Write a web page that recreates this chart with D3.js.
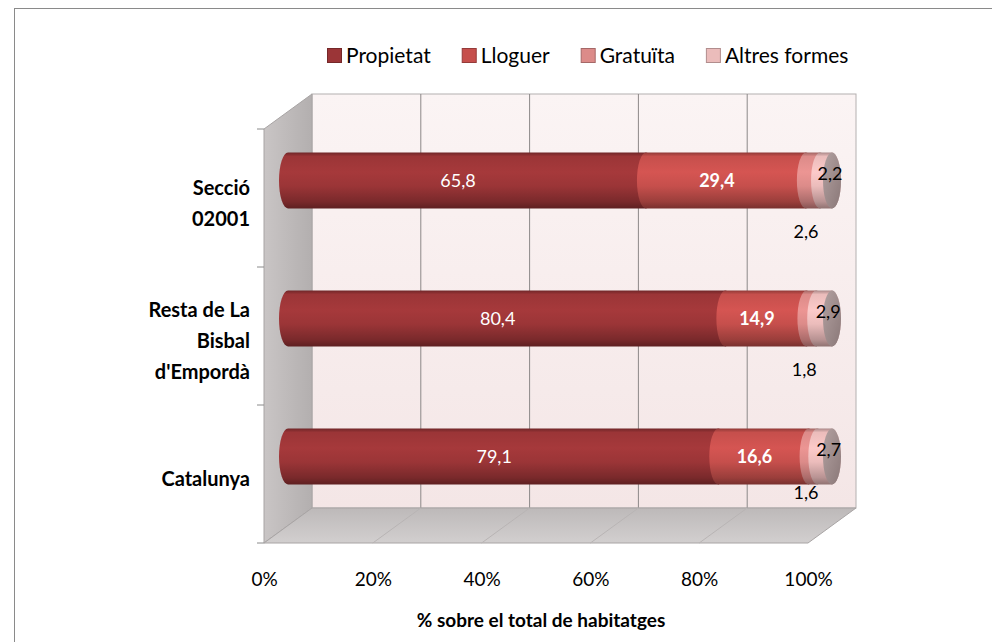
<!DOCTYPE html>
<html>
<head>
<meta charset="utf-8">
<script src="https://cdn.jsdelivr.net/npm/d3@7"></script>
<style>
  body { margin: 0; background: #fff; }
  svg { display: block; font-family: Lato, "Open Sans", sans-serif; }
</style>
</head>
<body>
<div id="chart"></div>
<script>
// Data
var categories = ["Secció 02001", "Resta de La Bisbal d'Empordà", "Catalunya"];
var categoryLines = [["Secció", "02001"], ["Resta de La", "Bisbal", "d'Empordà"], ["Catalunya"]];
var seriesNames = ["Propietat", "Lloguer", "Gratuïta", "Altres formes"];
var propietat = [65.8, 80.4, 79.1];
var lloguer = [29.4, 14.9, 16.6];
var gratuita = [2.6, 1.8, 1.6];
var altres = [2.2, 2.9, 2.7];
var tickValues = [0, 20, 40, 60, 80, 100];
var axisTitle = "% sobre el total de habitatges";

var colors = ["#9b3537", "#c64f4c", "#dc8b89", "#ebbcbb"];

// build the rows for d3.stack
var rows = categories.map(function(c, i) {
  return {cat: c, "Propietat": propietat[i], "Lloguer": lloguer[i], "Gratuïta": gratuita[i], "Altres formes": altres[i]};
});
var stacked = d3.stack().keys(seriesNames)(rows);

// Dimensions
var width = 992, height = 642;
var depthX = 48, depthY = 35;          // offset of the back wall
var plotTop = 129, plotBottom = 543;   // front edge of the plot

var svg = d3.select("#chart").append("svg")
    .attr("width", width)
    .attr("height", height);

var defs = svg.append("defs");

// outer frame (right and bottom edges fall outside the picture)
svg.append("rect")
    .attr("x", 14.5).attr("y", 8.5)
    .attr("width", 1000).attr("height", 700)
    .attr("fill", "#fff")
    .attr("stroke", "#8a8a8a");

// Scales
var x = d3.scaleLinear().domain([0, 100]).range([264, 808]);
var y = d3.scaleBand().domain(categories).range([plotTop, plotBottom]);
var xBack = function(v) { return x(v) + depthX; };
var xBar = function(v) { return x(v) + depthX / 2; };
var barCenter = function(c) { return y(c) + y.bandwidth() / 2 - depthY / 2; };
var barR = 28, capR = 9;

// gradients
var wallGrad = defs.append("linearGradient").attr("id", "wallGrad")
    .attr("x1", 0).attr("y1", 0).attr("x2", 0).attr("y2", 1);
wallGrad.append("stop").attr("offset", "0%").attr("stop-color", "#fbf4f4");
wallGrad.append("stop").attr("offset", "100%").attr("stop-color", "#f4e6e6");

var sideGrad = defs.append("linearGradient").attr("id", "sideGrad")
    .attr("x1", 0).attr("y1", 0).attr("x2", 1).attr("y2", 0);
sideGrad.append("stop").attr("offset", "0%").attr("stop-color", "#c9c5c5");
sideGrad.append("stop").attr("offset", "100%").attr("stop-color", "#b3afaf");

var floorGrad = defs.append("linearGradient").attr("id", "floorGrad")
    .attr("x1", 0).attr("y1", 0).attr("x2", 0).attr("y2", 1);
floorGrad.append("stop").attr("offset", "0%").attr("stop-color", "#bdb9b9");
floorGrad.append("stop").attr("offset", "100%").attr("stop-color", "#d2cfcf");

colors.forEach(function(col, i) {
  var g = defs.append("linearGradient").attr("id", "cyl" + i)
      .attr("x1", 0).attr("y1", 0).attr("x2", 0).attr("y2", 1);
  var c = d3.color(col);
  g.append("stop").attr("offset", "0%").attr("stop-color", c.darker(0.9));
  g.append("stop").attr("offset", "7%").attr("stop-color", c);
  g.append("stop").attr("offset", "35%").attr("stop-color", c.brighter(0.2));
  g.append("stop").attr("offset", "60%").attr("stop-color", c);
  g.append("stop").attr("offset", "88%").attr("stop-color", c.darker(0.7));
  g.append("stop").attr("offset", "100%").attr("stop-color", c.darker(1.4));
});

var capGrad = defs.append("linearGradient").attr("id", "capGrad")
    .attr("x1", 0).attr("y1", 0).attr("x2", 1).attr("y2", 1);
capGrad.append("stop").attr("offset", "0%").attr("stop-color", "#b3a1a1");
capGrad.append("stop").attr("offset", "100%").attr("stop-color", "#8a7878");

// back wall
svg.append("rect")
    .attr("x", xBack(0)).attr("y", plotTop - depthY)
    .attr("width", xBack(100) - xBack(0))
    .attr("height", plotBottom - plotTop)
    .attr("fill", "url(#wallGrad)")
    .attr("stroke", "#b4b0b0");

// grid lines on the back wall
svg.append("g").selectAll("line")
    .data(tickValues.slice(1, -1))
  .enter().append("line")
    .attr("x1", function(d) { return xBack(d); })
    .attr("x2", function(d) { return xBack(d); })
    .attr("y1", plotTop - depthY)
    .attr("y2", plotBottom - depthY)
    .attr("stroke", "#8c8888")
    .attr("stroke-width", 1);

// left side wall
svg.append("path")
    .attr("d", "M" + x(0) + "," + plotTop + "L" + xBack(0) + "," + (plotTop - depthY) +
               "L" + xBack(0) + "," + (plotBottom - depthY) + "L" + x(0) + "," + plotBottom + "Z")
    .attr("fill", "url(#sideGrad)")
    .attr("stroke", "#a8a4a4");

// floor
svg.append("path")
    .attr("d", "M" + x(0) + "," + plotBottom + "L" + xBack(0) + "," + (plotBottom - depthY) +
               "L" + xBack(100) + "," + (plotBottom - depthY) + "L" + x(100) + "," + plotBottom + "Z")
    .attr("fill", "url(#floorGrad)")
    .attr("stroke", "#a8a4a4");

svg.append("g").selectAll("line")
    .data(tickValues.slice(1, -1))
  .enter().append("line")
    .attr("x1", function(d) { return xBack(d); })
    .attr("y1", plotBottom - depthY)
    .attr("x2", function(d) { return x(d); })
    .attr("y2", plotBottom)
    .attr("stroke", "#b8b4b4");

// category ticks on the front left edge
svg.append("g").selectAll("line")
    .data(categories.concat([null]))
  .enter().append("line")
    .attr("x1", x(0) - 7).attr("x2", x(0))
    .attr("y1", function(d) { return d === null ? plotBottom : y(d); })
    .attr("y2", function(d) { return d === null ? plotBottom : y(d); })
    .attr("stroke", "#8a8a8a");

// cylinders: each segment is a capsule with elliptical ends, drawn left to right
function segPath(x0, x1, cy) {
  return "M" + x0 + "," + (cy - barR) +
         "L" + x1 + "," + (cy - barR) +
         "A" + capR + "," + barR + " 0 0 1 " + x1 + "," + (cy + barR) +
         "L" + x0 + "," + (cy + barR) +
         "A" + capR + "," + barR + " 0 0 1 " + x0 + "," + (cy - barR) + "Z";
}

stacked.forEach(function(layer, i) {
  svg.append("g").selectAll("path")
      .data(layer)
    .enter().append("path")
      .attr("d", function(d) { return segPath(xBar(d[0]), xBar(d[1]), barCenter(d.data.cat)); })
      .attr("fill", "url(#cyl" + i + ")");
});

// visible end caps
svg.append("g").selectAll("ellipse")
    .data(categories)
  .enter().append("ellipse")
    .attr("cx", xBar(100))
    .attr("cy", function(d) { return barCenter(d); })
    .attr("rx", capR).attr("ry", barR)
    .attr("fill", "url(#capGrad)");

// data labels
var labelStyle = [
  {fill: "#fff", weight: "normal"},
  {fill: "#fff", weight: "bold"},
  {fill: "#000", weight: "normal"},
  {fill: "#000", weight: "normal"}
];
var fmt = function(v) { return d3.format(".1f")(v).replace(".", ","); };

stacked.forEach(function(layer, i) {
  svg.append("g").selectAll("text")
      .data(layer)
    .enter().append("text")
      .attr("x", function(d) {
        var mid = xBar((d[0] + d[1]) / 2);
        if (i < 2) return mid - 9;
        if (i === 2) return mid - 7;
        return mid + 4;
      })
      .attr("y", function(d) {
        var cy = barCenter(d.data.cat);
        if (i < 2) return cy + 6;
        if (i === 2) return Math.min(cy + 51, plotBottom - depthY - 15) + 6;
        return cy - 7 + 6;
      })
      .attr("text-anchor", "middle")
      .style("font-size", "18px")
      .style("font-weight", labelStyle[i].weight)
      .attr("fill", labelStyle[i].fill)
      .text(function(d) { return fmt(d[1] - d[0]); });
});

// category labels
var catG = svg.append("g").selectAll("text")
    .data(categories)
  .enter().append("text")
    .attr("text-anchor", "end")
    .style("font-size", "20px")
    .style("font-weight", "bold")
    .attr("fill", "#000");

catG.each(function(d, i) {
  var lines = categoryLines[i];
  var lh = 31;
  var cy = y(d) + y.bandwidth() / 2 + 5;
  var y0 = cy - (lines.length - 1) * lh / 2 + 7;
  d3.select(this).selectAll("tspan")
      .data(lines)
    .enter().append("tspan")
      .attr("x", 250)
      .attr("y", function(t, k) { return y0 + k * lh; })
      .text(function(t) { return t; });
});

// x axis
var xAxis = svg.append("g")
    .attr("transform", "translate(0," + plotBottom + ")")
    .call(d3.axisBottom(x).tickValues(tickValues).tickFormat(function(d) { return d + "%"; }).tickSize(0).tickPadding(30));
xAxis.select(".domain").remove();
xAxis.selectAll("text")
    .style("font-size", "19px")
    .style("font-family", "Lato, sans-serif")
    .attr("fill", "#000");

// axis title
svg.append("text")
    .attr("x", 541)
    .attr("y", 627)
    .attr("text-anchor", "middle")
    .style("font-size", "19px")
    .style("font-weight", "bold")
    .text(axisTitle);

// legend
var legend = svg.append("g").attr("transform", "translate(0,63)");
var lx = 327;
seriesNames.forEach(function(name, i) {
  var item = legend.append("g").attr("transform", "translate(" + lx + ",0)");
  item.append("rect")
      .attr("x", 0.5).attr("y", -14.5)
      .attr("width", 14).attr("height", 14)
      .attr("fill", colors[i])
      .attr("stroke", d3.color(colors[i]).darker(0.8));
  var t = item.append("text")
      .attr("x", 19).attr("y", 0)
      .style("font-size", "21px")
      .text(name);
  lx += 19 + t.node().getComputedTextLength() + 31;
});
</script>
</body>
</html>
